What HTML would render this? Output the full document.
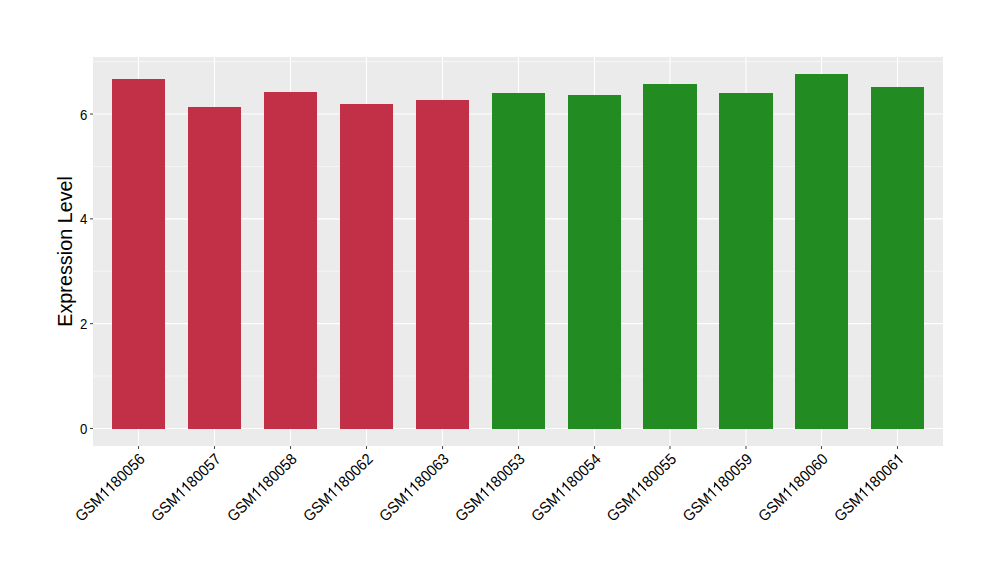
<!DOCTYPE html>
<html><head><meta charset="utf-8"><style>
html,body{margin:0;padding:0;background:#fff;}
svg{display:block;font-family:"Liberation Sans",sans-serif;}
</style></head><body>
<svg width="1000" height="580" viewBox="0 0 1000 580">
<rect width="1000" height="580" fill="#fff"/>
<rect x="93" y="57" width="850" height="389" fill="#EBEBEB"/>
<line x1="93" x2="943" y1="376.05" y2="376.05" stroke="#fff" stroke-width="0.55"/>
<line x1="93" x2="943" y1="271.25" y2="271.25" stroke="#fff" stroke-width="0.55"/>
<line x1="93" x2="943" y1="166.45" y2="166.45" stroke="#fff" stroke-width="0.55"/>
<line x1="93" x2="943" y1="61.65" y2="61.65" stroke="#fff" stroke-width="0.55"/>
<line x1="93" x2="943" y1="428.45" y2="428.45" stroke="#fff" stroke-width="1.1"/>
<line x1="93" x2="943" y1="323.65" y2="323.65" stroke="#fff" stroke-width="1.1"/>
<line x1="93" x2="943" y1="218.85" y2="218.85" stroke="#fff" stroke-width="1.1"/>
<line x1="93" x2="943" y1="114.05" y2="114.05" stroke="#fff" stroke-width="1.1"/>
<line x1="138.50" x2="138.50" y1="57" y2="446" stroke="#fff" stroke-width="1.1"/>
<line x1="214.50" x2="214.50" y1="57" y2="446" stroke="#fff" stroke-width="1.1"/>
<line x1="290.50" x2="290.50" y1="57" y2="446" stroke="#fff" stroke-width="1.1"/>
<line x1="366.50" x2="366.50" y1="57" y2="446" stroke="#fff" stroke-width="1.1"/>
<line x1="442.50" x2="442.50" y1="57" y2="446" stroke="#fff" stroke-width="1.1"/>
<line x1="518.50" x2="518.50" y1="57" y2="446" stroke="#fff" stroke-width="1.1"/>
<line x1="594.50" x2="594.50" y1="57" y2="446" stroke="#fff" stroke-width="1.1"/>
<line x1="670.00" x2="670.00" y1="57" y2="446" stroke="#fff" stroke-width="1.1"/>
<line x1="746.00" x2="746.00" y1="57" y2="446" stroke="#fff" stroke-width="1.1"/>
<line x1="821.50" x2="821.50" y1="57" y2="446" stroke="#fff" stroke-width="1.1"/>
<line x1="897.50" x2="897.50" y1="57" y2="446" stroke="#fff" stroke-width="1.1"/>
<rect x="112" y="79" width="53" height="350" fill="#C23048"/>
<rect x="188" y="107" width="53" height="322" fill="#C23048"/>
<rect x="264" y="92" width="53" height="337" fill="#C23048"/>
<rect x="340" y="104" width="53" height="325" fill="#C23048"/>
<rect x="416" y="100" width="53" height="329" fill="#C23048"/>
<rect x="492" y="93" width="53" height="336" fill="#228B22"/>
<rect x="568" y="95" width="53" height="334" fill="#228B22"/>
<rect x="643" y="84" width="54" height="345" fill="#228B22"/>
<rect x="719" y="93" width="54" height="336" fill="#228B22"/>
<rect x="795" y="74" width="53" height="355" fill="#228B22"/>
<rect x="871" y="87" width="53" height="342" fill="#228B22"/>
<line x1="90" x2="93" y1="428.45" y2="428.45" stroke="#4a4a4a" stroke-width="1.07"/>
<text transform="translate(87.4,434) scale(0.94,1)" text-anchor="end" font-size="14" fill="#000">0</text>
<line x1="90" x2="93" y1="323.65" y2="323.65" stroke="#4a4a4a" stroke-width="1.07"/>
<text transform="translate(87.4,329) scale(0.94,1)" text-anchor="end" font-size="14" fill="#000">2</text>
<line x1="90" x2="93" y1="218.85" y2="218.85" stroke="#4a4a4a" stroke-width="1.07"/>
<text transform="translate(87.4,224) scale(0.94,1)" text-anchor="end" font-size="14" fill="#000">4</text>
<line x1="90" x2="93" y1="114.05" y2="114.05" stroke="#4a4a4a" stroke-width="1.07"/>
<text transform="translate(87.4,120) scale(0.94,1)" text-anchor="end" font-size="14" fill="#000">6</text>
<line x1="138.50" x2="138.50" y1="446" y2="449" stroke="#4a4a4a" stroke-width="1.07"/>
<g transform="translate(138.90,453.0) rotate(-44.0) scale(0.93,1)"><text x="-96.25 -84.12 -73.72 -60.73 -52.06 -43.38 -34.70 -26.03 -17.35 -8.68" y="10" font-size="15.6" fill="#000">GSM&#x2007;&#x2007;80056</text><path d="M763 0H583V1147Q518 1085 412 1023Q306 961 223 930V1104Q374 1175 487 1276Q600 1377 647 1472H763Z" transform="translate(-60.732,10) scale(0.007617,-0.007617)"/><path d="M763 0H583V1147Q518 1085 412 1023Q306 961 223 930V1104Q374 1175 487 1276Q600 1377 647 1472H763Z" transform="translate(-52.056,10) scale(0.007617,-0.007617)"/></g>
<line x1="214.50" x2="214.50" y1="446" y2="449" stroke="#4a4a4a" stroke-width="1.07"/>
<g transform="translate(214.90,453.0) rotate(-44.0) scale(0.93,1)"><text x="-96.25 -84.12 -73.72 -60.73 -52.06 -43.38 -34.70 -26.03 -17.35 -8.68" y="10" font-size="15.6" fill="#000">GSM&#x2007;&#x2007;80057</text><path d="M763 0H583V1147Q518 1085 412 1023Q306 961 223 930V1104Q374 1175 487 1276Q600 1377 647 1472H763Z" transform="translate(-60.732,10) scale(0.007617,-0.007617)"/><path d="M763 0H583V1147Q518 1085 412 1023Q306 961 223 930V1104Q374 1175 487 1276Q600 1377 647 1472H763Z" transform="translate(-52.056,10) scale(0.007617,-0.007617)"/></g>
<line x1="290.50" x2="290.50" y1="446" y2="449" stroke="#4a4a4a" stroke-width="1.07"/>
<g transform="translate(290.90,453.0) rotate(-44.0) scale(0.93,1)"><text x="-96.25 -84.12 -73.72 -60.73 -52.06 -43.38 -34.70 -26.03 -17.35 -8.68" y="10" font-size="15.6" fill="#000">GSM&#x2007;&#x2007;80058</text><path d="M763 0H583V1147Q518 1085 412 1023Q306 961 223 930V1104Q374 1175 487 1276Q600 1377 647 1472H763Z" transform="translate(-60.732,10) scale(0.007617,-0.007617)"/><path d="M763 0H583V1147Q518 1085 412 1023Q306 961 223 930V1104Q374 1175 487 1276Q600 1377 647 1472H763Z" transform="translate(-52.056,10) scale(0.007617,-0.007617)"/></g>
<line x1="366.50" x2="366.50" y1="446" y2="449" stroke="#4a4a4a" stroke-width="1.07"/>
<g transform="translate(366.90,453.0) rotate(-44.0) scale(0.93,1)"><text x="-96.25 -84.12 -73.72 -60.73 -52.06 -43.38 -34.70 -26.03 -17.35 -8.68" y="10" font-size="15.6" fill="#000">GSM&#x2007;&#x2007;80062</text><path d="M763 0H583V1147Q518 1085 412 1023Q306 961 223 930V1104Q374 1175 487 1276Q600 1377 647 1472H763Z" transform="translate(-60.732,10) scale(0.007617,-0.007617)"/><path d="M763 0H583V1147Q518 1085 412 1023Q306 961 223 930V1104Q374 1175 487 1276Q600 1377 647 1472H763Z" transform="translate(-52.056,10) scale(0.007617,-0.007617)"/></g>
<line x1="442.50" x2="442.50" y1="446" y2="449" stroke="#4a4a4a" stroke-width="1.07"/>
<g transform="translate(442.90,453.0) rotate(-44.0) scale(0.93,1)"><text x="-96.25 -84.12 -73.72 -60.73 -52.06 -43.38 -34.70 -26.03 -17.35 -8.68" y="10" font-size="15.6" fill="#000">GSM&#x2007;&#x2007;80063</text><path d="M763 0H583V1147Q518 1085 412 1023Q306 961 223 930V1104Q374 1175 487 1276Q600 1377 647 1472H763Z" transform="translate(-60.732,10) scale(0.007617,-0.007617)"/><path d="M763 0H583V1147Q518 1085 412 1023Q306 961 223 930V1104Q374 1175 487 1276Q600 1377 647 1472H763Z" transform="translate(-52.056,10) scale(0.007617,-0.007617)"/></g>
<line x1="518.50" x2="518.50" y1="446" y2="449" stroke="#4a4a4a" stroke-width="1.07"/>
<g transform="translate(518.90,453.0) rotate(-44.0) scale(0.93,1)"><text x="-96.25 -84.12 -73.72 -60.73 -52.06 -43.38 -34.70 -26.03 -17.35 -8.68" y="10" font-size="15.6" fill="#000">GSM&#x2007;&#x2007;80053</text><path d="M763 0H583V1147Q518 1085 412 1023Q306 961 223 930V1104Q374 1175 487 1276Q600 1377 647 1472H763Z" transform="translate(-60.732,10) scale(0.007617,-0.007617)"/><path d="M763 0H583V1147Q518 1085 412 1023Q306 961 223 930V1104Q374 1175 487 1276Q600 1377 647 1472H763Z" transform="translate(-52.056,10) scale(0.007617,-0.007617)"/></g>
<line x1="594.50" x2="594.50" y1="446" y2="449" stroke="#4a4a4a" stroke-width="1.07"/>
<g transform="translate(594.90,453.0) rotate(-44.0) scale(0.93,1)"><text x="-96.25 -84.12 -73.72 -60.73 -52.06 -43.38 -34.70 -26.03 -17.35 -8.68" y="10" font-size="15.6" fill="#000">GSM&#x2007;&#x2007;80054</text><path d="M763 0H583V1147Q518 1085 412 1023Q306 961 223 930V1104Q374 1175 487 1276Q600 1377 647 1472H763Z" transform="translate(-60.732,10) scale(0.007617,-0.007617)"/><path d="M763 0H583V1147Q518 1085 412 1023Q306 961 223 930V1104Q374 1175 487 1276Q600 1377 647 1472H763Z" transform="translate(-52.056,10) scale(0.007617,-0.007617)"/></g>
<line x1="670.00" x2="670.00" y1="446" y2="449" stroke="#4a4a4a" stroke-width="1.07"/>
<g transform="translate(670.40,453.0) rotate(-44.0) scale(0.93,1)"><text x="-96.25 -84.12 -73.72 -60.73 -52.06 -43.38 -34.70 -26.03 -17.35 -8.68" y="10" font-size="15.6" fill="#000">GSM&#x2007;&#x2007;80055</text><path d="M763 0H583V1147Q518 1085 412 1023Q306 961 223 930V1104Q374 1175 487 1276Q600 1377 647 1472H763Z" transform="translate(-60.732,10) scale(0.007617,-0.007617)"/><path d="M763 0H583V1147Q518 1085 412 1023Q306 961 223 930V1104Q374 1175 487 1276Q600 1377 647 1472H763Z" transform="translate(-52.056,10) scale(0.007617,-0.007617)"/></g>
<line x1="746.00" x2="746.00" y1="446" y2="449" stroke="#4a4a4a" stroke-width="1.07"/>
<g transform="translate(746.40,453.0) rotate(-44.0) scale(0.93,1)"><text x="-96.25 -84.12 -73.72 -60.73 -52.06 -43.38 -34.70 -26.03 -17.35 -8.68" y="10" font-size="15.6" fill="#000">GSM&#x2007;&#x2007;80059</text><path d="M763 0H583V1147Q518 1085 412 1023Q306 961 223 930V1104Q374 1175 487 1276Q600 1377 647 1472H763Z" transform="translate(-60.732,10) scale(0.007617,-0.007617)"/><path d="M763 0H583V1147Q518 1085 412 1023Q306 961 223 930V1104Q374 1175 487 1276Q600 1377 647 1472H763Z" transform="translate(-52.056,10) scale(0.007617,-0.007617)"/></g>
<line x1="821.50" x2="821.50" y1="446" y2="449" stroke="#4a4a4a" stroke-width="1.07"/>
<g transform="translate(821.90,453.0) rotate(-44.0) scale(0.93,1)"><text x="-96.25 -84.12 -73.72 -60.73 -52.06 -43.38 -34.70 -26.03 -17.35 -8.68" y="10" font-size="15.6" fill="#000">GSM&#x2007;&#x2007;80060</text><path d="M763 0H583V1147Q518 1085 412 1023Q306 961 223 930V1104Q374 1175 487 1276Q600 1377 647 1472H763Z" transform="translate(-60.732,10) scale(0.007617,-0.007617)"/><path d="M763 0H583V1147Q518 1085 412 1023Q306 961 223 930V1104Q374 1175 487 1276Q600 1377 647 1472H763Z" transform="translate(-52.056,10) scale(0.007617,-0.007617)"/></g>
<line x1="897.50" x2="897.50" y1="446" y2="449" stroke="#4a4a4a" stroke-width="1.07"/>
<g transform="translate(897.90,453.0) rotate(-44.0) scale(0.93,1)"><text x="-96.25 -84.12 -73.72 -60.73 -52.06 -43.38 -34.70 -26.03 -17.35 -8.68" y="10" font-size="15.6" fill="#000">GSM&#x2007;&#x2007;8006&#x2007;</text><path d="M763 0H583V1147Q518 1085 412 1023Q306 961 223 930V1104Q374 1175 487 1276Q600 1377 647 1472H763Z" transform="translate(-60.732,10) scale(0.007617,-0.007617)"/><path d="M763 0H583V1147Q518 1085 412 1023Q306 961 223 930V1104Q374 1175 487 1276Q600 1377 647 1472H763Z" transform="translate(-52.056,10) scale(0.007617,-0.007617)"/><path d="M763 0H583V1147Q518 1085 412 1023Q306 961 223 930V1104Q374 1175 487 1276Q600 1377 647 1472H763Z" transform="translate(-8.676,10) scale(0.007617,-0.007617)"/></g>
<text transform="translate(72,251.4) rotate(-90)" text-anchor="middle" font-size="19.8" fill="#000">Expression Level</text>
</svg>
</body></html>
